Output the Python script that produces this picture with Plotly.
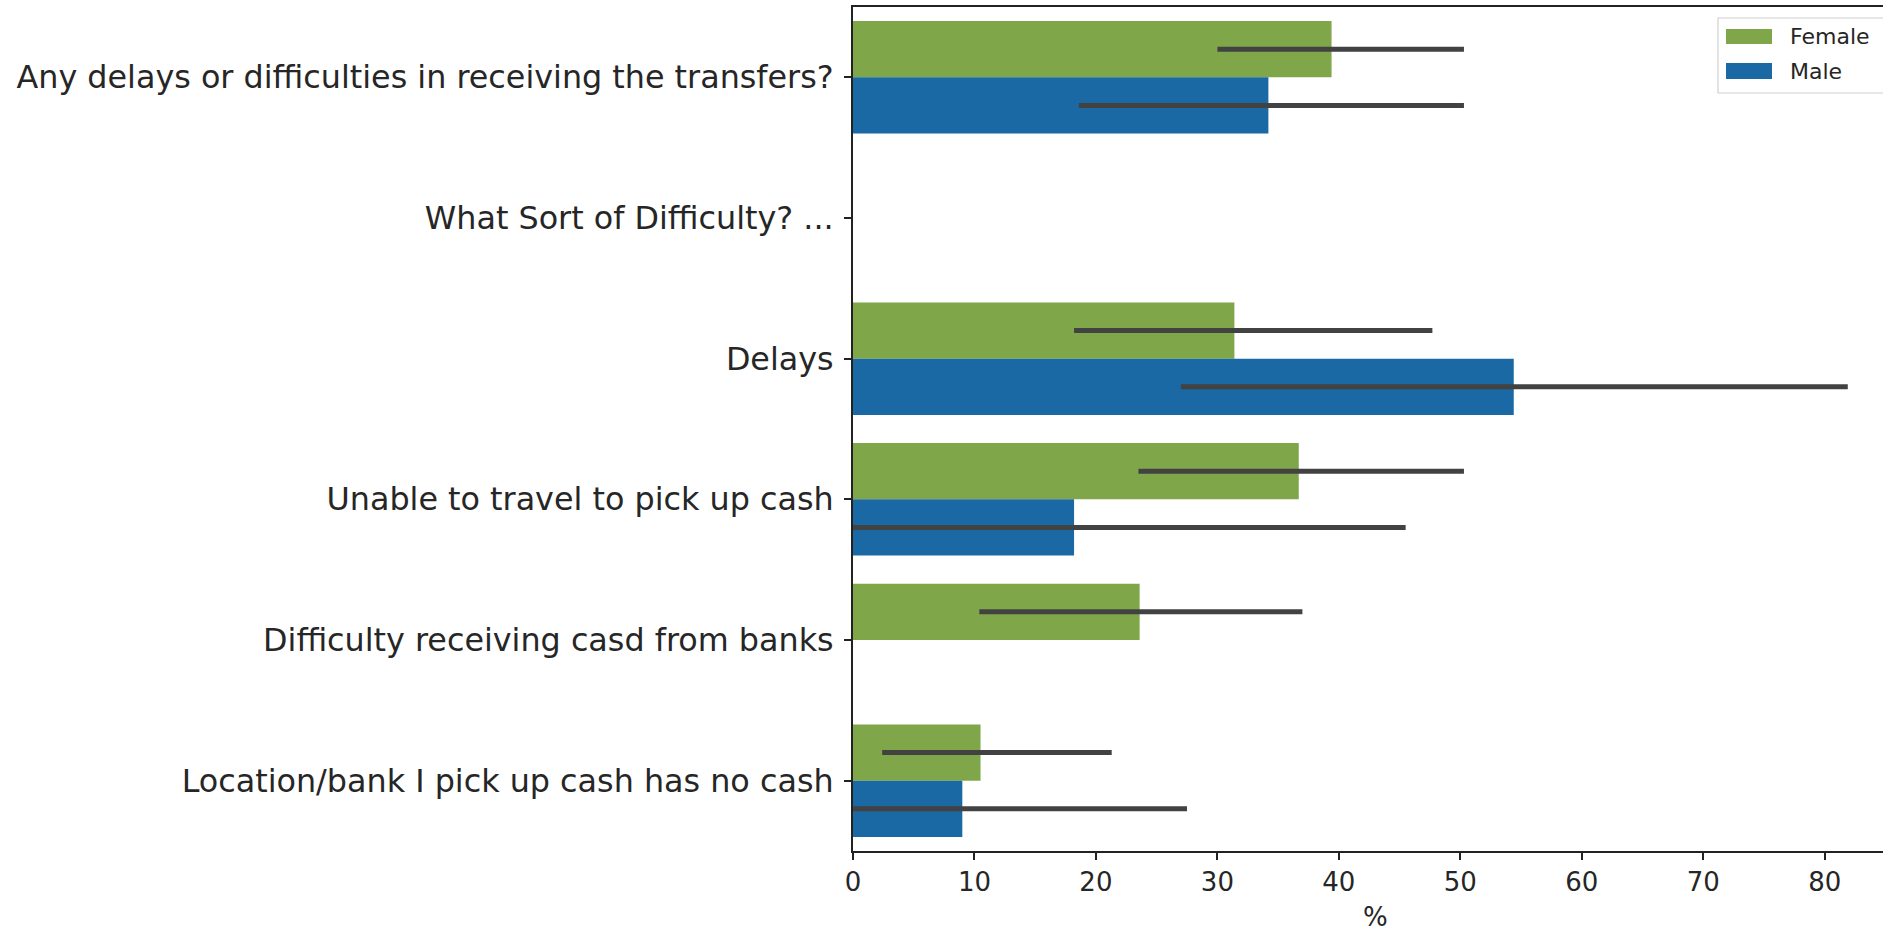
import plotly.graph_objects as go

# ---- data -------------------------------------------------------------
categories = [
    "Any delays or difficulties in receiving the transfers?",
    "What Sort of Difficulty? ...",
    "Delays",
    "Unable to travel to pick up cash",
    "Difficulty receiving casd from banks",
    "Location/bank I pick up cash has no cash",
]

female_pct = [39.4, None, 31.4, 36.7, 23.6, 10.5]
female_ci_low = [30.0, None, 18.2, 23.5, 10.4, 2.4]
female_ci_high = [50.3, None, 47.7, 50.3, 37.0, 21.3]

male_pct = [34.2, None, 54.4, 18.2, None, 9.0]
male_ci_low = [18.6, None, 27.0, 0.0, None, 0.0]
male_ci_high = [50.3, None, 81.9, 45.5, None, 27.5]

x_ticks = [0, 10, 20, 30, 40, 50, 60, 70, 80]
series_names = ["Female", "Male"]

# ---- style ------------------------------------------------------------
GREEN = "#7fa74a"
BLUE = "#1a69a4"
ERR = "#424242"
AXIS = "#222222"
FONT = "DejaVu Sans"

W, H = 1883, 934
M_L, M_R, M_T, M_B = 853, 0, 7, 83
X_VISIBLE = 84.8      # part of the axis that fits on the page
X_FULL = 86.0         # full axis length (title is centred on it)


def err_plus(vals, highs):
    return [None if v is None else h - v for v, h in zip(vals, highs)]


def err_minus(vals, lows):
    return [None if v is None else v - lo for v, lo in zip(vals, lows)]


def px_x(p):
    return (p - M_L) / (W - M_L - M_R)


def px_y(p):
    return (H - M_B - p) / (H - M_B - M_T)


fig = go.Figure()
for name, vals, lows, highs, color in [
    (series_names[0], female_pct, female_ci_low, female_ci_high, GREEN),
    (series_names[1], male_pct, male_ci_low, male_ci_high, BLUE),
]:
    fig.add_trace(go.Bar(
        name=name,
        y=categories,
        x=vals,
        orientation="h",
        marker=dict(color=color, line=dict(width=0)),
        error_x=dict(
            type="data",
            symmetric=False,
            array=err_plus(vals, highs),
            arrayminus=err_minus(vals, lows),
            color=ERR,
            thickness=5,
            width=0,
        ),
        showlegend=False,
    ))

# legend box drawn as shapes + text
shapes = [
    dict(type="rect", xref="paper", yref="paper",
         x0=px_x(1718), x1=px_x(1900), y0=px_y(93), y1=px_y(18),
         line=dict(color="#cfcfcf", width=1.2), fillcolor="rgba(255,255,255,0.85)"),
    dict(type="rect", xref="paper", yref="paper",
         x0=px_x(1726), x1=px_x(1772), y0=px_y(44), y1=px_y(29),
         line=dict(width=0), fillcolor=GREEN),
    dict(type="rect", xref="paper", yref="paper",
         x0=px_x(1726), x1=px_x(1772), y0=px_y(79), y1=px_y(63),
         line=dict(width=0), fillcolor=BLUE),
]
annotations = [
    dict(text=series_names[0], xref="paper", yref="paper",
         x=px_x(1788), y=px_y(37), xanchor="left", yanchor="middle",
         showarrow=False, font=dict(family=FONT, size=22, color="#262626")),
    dict(text=series_names[1], xref="paper", yref="paper",
         x=px_x(1788), y=px_y(71), xanchor="left", yanchor="middle",
         showarrow=False, font=dict(family=FONT, size=22, color="#262626")),
    dict(text="%", xref="x", yref="paper",
         x=X_FULL / 2, y=px_y(917), xanchor="center", yanchor="middle",
         showarrow=False, font=dict(family=FONT, size=26, color="#262626")),
]

fig.update_layout(
    width=W,
    height=H,
    margin=dict(l=M_L, r=M_R, t=M_T, b=M_B, pad=0),
    paper_bgcolor="white",
    plot_bgcolor="white",
    barmode="group",
    bargap=0.2,
    bargroupgap=0,
    font=dict(family=FONT, color="#262626"),
    shapes=shapes,
    annotations=annotations,
    xaxis=dict(
        range=[0, X_VISIBLE],
        tickmode="array",
        tickvals=x_ticks,
        ticktext=[str(t) for t in x_ticks],
        ticks="outside",
        ticklen=7,
        tickwidth=1.5,
        tickcolor=AXIS,
        showline=True,
        linecolor=AXIS,
        linewidth=2,
        mirror=True,
        showgrid=False,
        zeroline=False,
        tickfont=dict(family=FONT, size=26, color="#262626"),
    ),
    yaxis=dict(
        type="category",
        categoryorder="array",
        categoryarray=categories,
        range=[5.5, -0.5],
        ticks="outside",
        ticklen=7,
        tickwidth=1.5,
        tickcolor=AXIS,
        showline=True,
        linecolor=AXIS,
        linewidth=2,
        showgrid=False,
        zeroline=False,
        ticklabelstandoff=4,
        tickfont=dict(family=FONT, size=31.8, color="#262626"),
    ),
)

fig.write_html("out.html")
